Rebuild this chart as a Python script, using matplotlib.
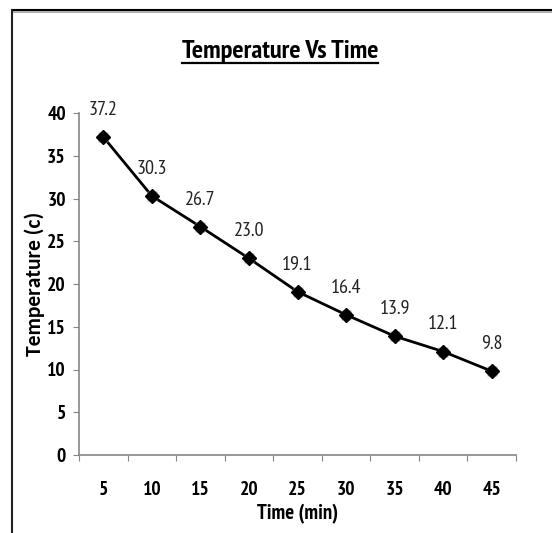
import matplotlib
matplotlib.use("Agg")
import matplotlib.pyplot as plt
from matplotlib.lines import Line2D

# data
time_min = [5, 10, 15, 20, 25, 30, 35, 40, 45]
temperature = [37.2, 30.3, 26.7, 23.0, 19.1, 16.4, 13.9, 12.1, 9.8]
tick_labels = [str(t) for t in time_min]

plt.rcParams["font.family"] = ["PT Sans Narrow", "DejaVu Sans"]
axis_grey = "#868686"

fig = plt.figure(figsize=(5.52, 5.33), dpi=100)
ax = fig.add_axes([79 / 552, 1 - 455 / 533, 437 / 552, 342 / 533])

# category axis like excel: tick marks between categories, labels in the middle
pos = list(range(len(time_min)))
ax.set_xlim(-0.5, len(time_min) - 0.5)
ax.set_xticks([p - 0.5 for p in pos] + [pos[-1] + 0.5])
ax.set_xticklabels([])
ax.set_xticks(pos, minor=True)
ax.set_xticklabels(tick_labels, minor=True, fontsize=14, fontweight="bold")
ax.tick_params(axis="x", which="major", direction="out", length=4.5, color=axis_grey)
ax.tick_params(axis="x", which="minor", length=0, pad=19)

ax.set_ylim(0, 40)
ax.set_yticks(range(0, 41, 5))
ax.tick_params(axis="y", direction="out", length=4.5, color=axis_grey, labelsize=14, pad=5)
for lab in ax.get_yticklabels():
    lab.set_fontweight("bold")

for s in ["top", "right"]:
    ax.spines[s].set_visible(False)
for s in ["left", "bottom"]:
    ax.spines[s].set_color(axis_grey)
    ax.spines[s].set_linewidth(1.2)

ax.set_xlabel("Time (min)", fontsize=15, fontweight="bold", labelpad=3)
ax.set_ylabel("Temperature (c)", fontsize=15.5, fontweight="bold",
              family=["Carlito", "DejaVu Sans"])
ax.yaxis.set_label_coords(-0.078, 0.5)

# line with diamond markers (grey halo behind like the original)
ax.plot(pos, temperature, color="black", lw=2, zorder=3, clip_on=False)
ax.plot(pos, temperature, ls="none", marker="s", ms=7, mfc="#9a9a9a", mec="none",
        alpha=0.7, zorder=3, clip_on=False)
ax.plot(pos, temperature, ls="none", marker="D", ms=7, mfc="black", mec="black",
        zorder=4, clip_on=False)
for p, v in zip(pos, temperature):
    ax.annotate(f"{v:.1f}", (p, v), xytext=(0, 19.5), textcoords="offset points",
                ha="center", va="center", fontsize=14.5, color="#222222",
                annotation_clip=False)

title = fig.text(280 / 552, 1 - 58 / 533, "Temperature Vs Time", ha="center",
                 va="baseline", fontsize=19, fontweight="bold")

# outer chart border, only top and left are inside the picture
fig.lines.append(Line2D([12 / 552, 1], [1 - 10 / 533] * 2, transform=fig.transFigure,
                        color="black", lw=1.5))
fig.lines.append(Line2D([12 / 552, 1], [1 - 11.8 / 533] * 2, transform=fig.transFigure,
                        color="#a0a0a0", lw=1.2))
fig.lines.append(Line2D([12 / 552] * 2, [0, 1 - 10 / 533], transform=fig.transFigure,
                        color="#222222", lw=1.5))

# underline the title
fig.canvas.draw()
bb = title.get_window_extent().transformed(fig.transFigure.inverted())
uy = 1 - 63 / 533
fig.lines.append(Line2D([bb.x0, bb.x1], [uy, uy], transform=fig.transFigure,
                        color="black", lw=1.6))

fig.savefig("out.png", dpi=100)
